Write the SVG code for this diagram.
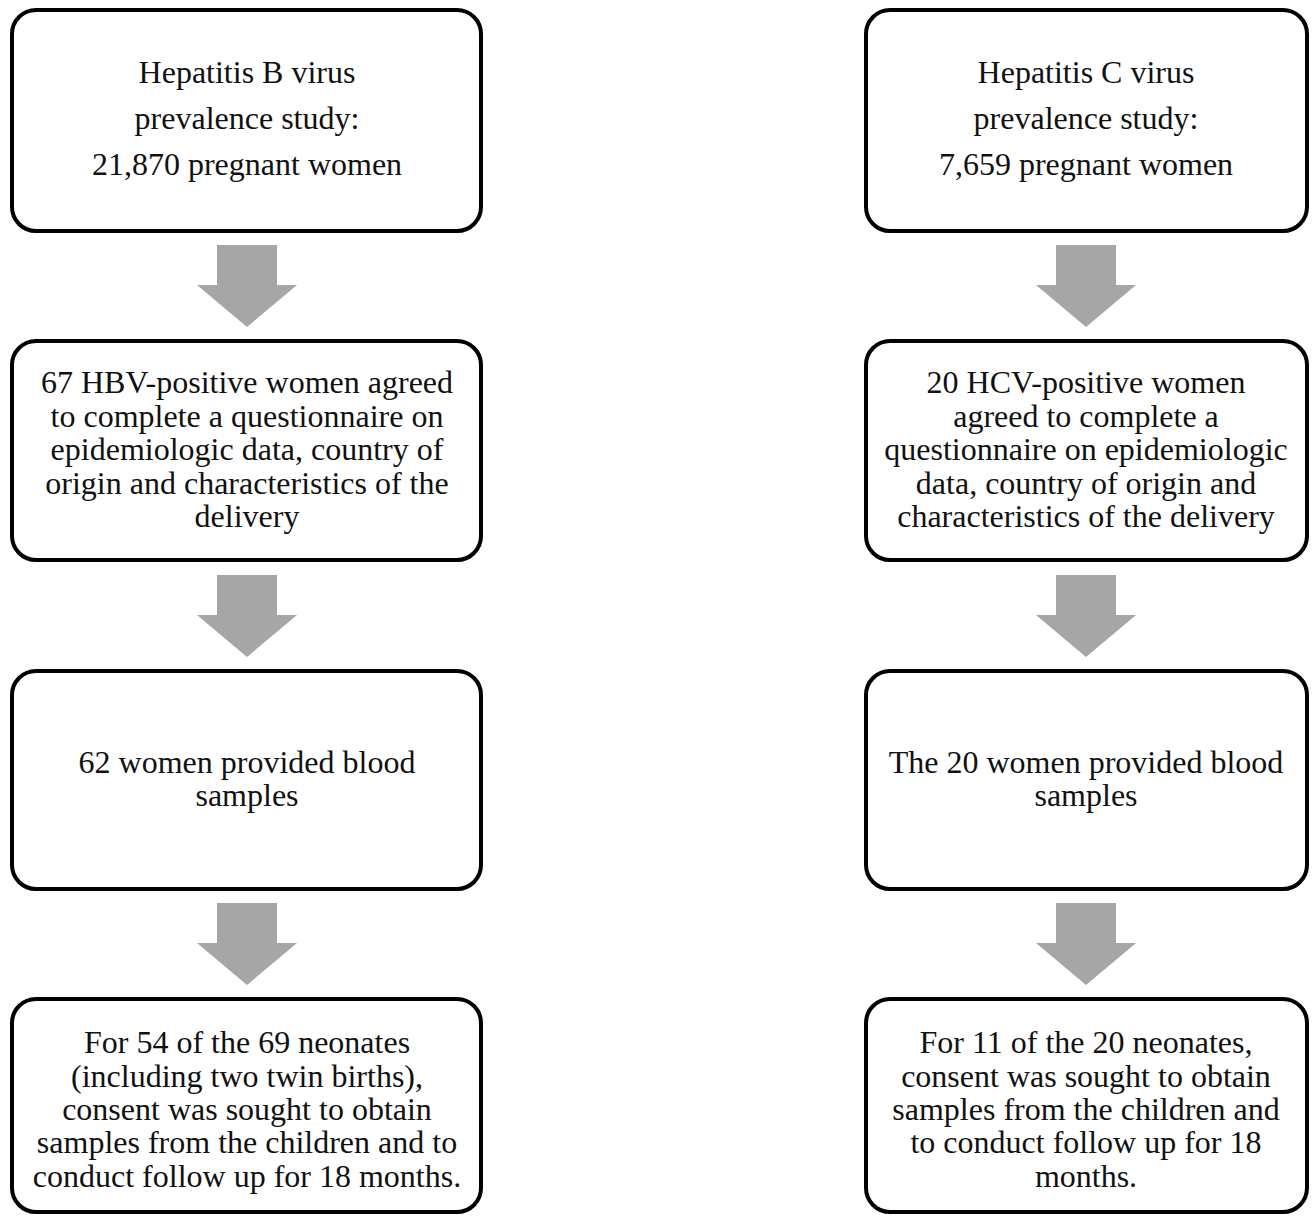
<svg xmlns="http://www.w3.org/2000/svg" width="1315" height="1218" viewBox="0 0 1315 1218">
<style>
.box{fill:#fff;stroke:#000;stroke-width:4}
.t{font-family:"Liberation Serif","Times New Roman",serif;font-size:32px;fill:#111;text-anchor:middle}
.arr{fill:#a6a6a6}
</style>
<rect width="1315" height="1218" fill="#fff"/>
<g id="connectors">
<polygon class="arr" points="217,245 277,245 277,285 297,285 247,327 197,285 217,285"/>
<polygon class="arr" points="217,575 277,575 277,615 297,615 247,657 197,615 217,615"/>
<polygon class="arr" points="217,903 277,903 277,943 297,943 247,985 197,943 217,943"/>
<polygon class="arr" points="1056,245 1116,245 1116,285 1136,285 1086,327 1036,285 1056,285"/>
<polygon class="arr" points="1056,575 1116,575 1116,615 1136,615 1086,657 1036,615 1056,615"/>
<polygon class="arr" points="1056,903 1116,903 1116,943 1136,943 1086,985 1036,943 1056,943"/>
</g>
<g id="hbv1"><rect class="box" x="12" y="10" width="469" height="221" rx="24"/>
<text class="t" x="247" y="83">Hepatitis B virus</text><text class="t" x="247" y="129">prevalence study:</text><text class="t" x="247" y="175">21,870 pregnant women</text></g>
<g id="hbv2"><rect class="box" x="12" y="341" width="469" height="219" rx="24"/>
<text class="t" x="247" y="393">67 HBV-positive women agreed</text><text class="t" x="247" y="427">to complete a questionnaire on</text><text class="t" x="247" y="460">epidemiologic data, country of</text><text class="t" x="247" y="494">origin and characteristics of the</text><text class="t" x="247" y="527">delivery</text></g>
<g id="hbv3"><rect class="box" x="12" y="671" width="469" height="218" rx="24"/>
<text class="t" x="247" y="773">62 women provided blood</text><text class="t" x="247" y="806">samples</text></g>
<g id="hbv4"><rect class="box" x="12" y="999" width="469" height="213" rx="24"/>
<text class="t" x="247" y="1053">For 54 of the 69 neonates</text><text class="t" x="247" y="1087">(including two twin births),</text><text class="t" x="247" y="1120">consent was sought to obtain</text><text class="t" x="247" y="1153">samples from the children and to</text><text class="t" x="247" y="1187">conduct follow up for 18 months.</text></g>
<g id="hcv1"><rect class="box" x="866" y="10" width="441" height="221" rx="24"/>
<text class="t" x="1086" y="83">Hepatitis C virus</text><text class="t" x="1086" y="129">prevalence study:</text><text class="t" x="1086" y="175">7,659 pregnant women</text></g>
<g id="hcv2"><rect class="box" x="866" y="341" width="441" height="219" rx="24"/>
<text class="t" x="1086" y="393">20 HCV-positive women</text><text class="t" x="1086" y="427">agreed to complete a</text><text class="t" x="1086" y="460">questionnaire on epidemiologic</text><text class="t" x="1086" y="494">data, country of origin and</text><text class="t" x="1086" y="527">characteristics of the delivery</text></g>
<g id="hcv3"><rect class="box" x="866" y="671" width="441" height="218" rx="24"/>
<text class="t" x="1086" y="773">The 20 women provided blood</text><text class="t" x="1086" y="806">samples</text></g>
<g id="hcv4"><rect class="box" x="866" y="999" width="441" height="213" rx="24"/>
<text class="t" x="1086" y="1053">For 11 of the 20 neonates,</text><text class="t" x="1086" y="1087">consent was sought to obtain</text><text class="t" x="1086" y="1120">samples from the children and</text><text class="t" x="1086" y="1153">to conduct follow up for 18</text><text class="t" x="1086" y="1187">months.</text></g>
</svg>
